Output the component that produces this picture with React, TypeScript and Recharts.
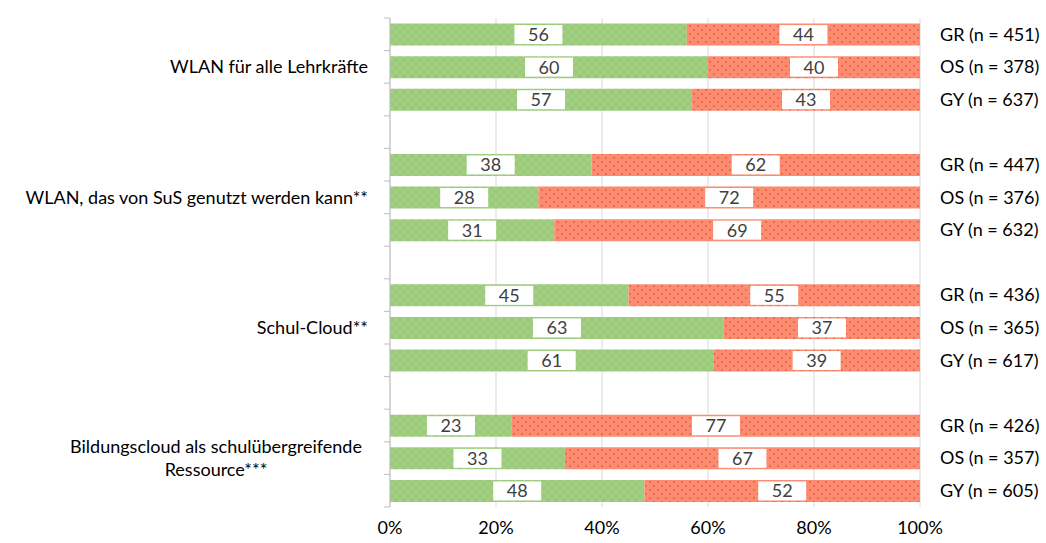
import { BarChart, Bar, XAxis, YAxis, CartesianGrid, LabelList } from "recharts";

// categories (group labels), school types, sample sizes, shares (%)
const groups = [
  ["WLAN für alle Lehrkräfte"],
  ["WLAN, das von SuS genutzt werden kann**"],
  ["Schul-Cloud**"],
  ["Bildungscloud als schulübergreifende", "Ressource***"],
];
const schoolTypes = ["GR", "OS", "GY"];
const sampleSizes = [
  [451, 378, 637],
  [447, 376, 632],
  [436, 365, 617],
  [426, 357, 605],
];
const yesShares = [
  [56, 60, 57],
  [38, 28, 31],
  [45, 63, 61],
  [23, 33, 48],
];
const noShares = [
  [44, 40, 43],
  [62, 72, 69],
  [55, 37, 39],
  [77, 67, 52],
];
const xTicks = [0, 20, 40, 60, 80, 100];

const FONT = "Lato, 'Noto Sans', sans-serif";
const FS = 18;
const PLOT_LEFT = 390;
const TOP = 18;
const X_AXIS_H = 36;
const HEIGHT = 543;

type Row = {
  key: string;
  group: number;
  mid: boolean;
  right: string;
  yes: number | null;
  no: number | null;
};

// rows incl. blank spacer rows between groups
const rows: Row[] = [];
groups.forEach((_, g) => {
  if (g > 0) rows.push({ key: `gap${g}`, group: -1, mid: false, right: "", yes: null, no: null });
  schoolTypes.forEach((s, i) => {
    rows.push({
      key: `${g}-${s}`,
      group: g,
      mid: i === 1,
      right: `${s} (n = ${sampleSizes[g][i]})`,
      yes: yesShares[g][i],
      no: noShares[g][i],
    });
  });
});

const band = (HEIGHT - TOP - X_AXIS_H) / rows.length;

const LeftTick = (props: any) => {
  const { x, y, payload, index } = props;
  const row = rows.find((r) => r.key === payload.value)!;
  const marks = (
    <g>
      <line x1={PLOT_LEFT - 6} x2={PLOT_LEFT} y1={y - band / 2} y2={y - band / 2} stroke="#BFBFBF" />
      {index === rows.length - 1 && (
        <line x1={PLOT_LEFT - 6} x2={PLOT_LEFT} y1={y + band / 2} y2={y + band / 2} stroke="#BFBFBF" />
      )}
    </g>
  );
  if (!row.mid) return marks;
  const lines = groups[row.group];
  if (lines.length === 1) {
    return (
      <g>
        {marks}
        <text x={x} y={y} dy="0.35em" textAnchor="end" fontSize={FS} fill="#000" fontFamily={FONT}>
          {lines[0]}
        </text>
      </g>
    );
  }
  return (
    <g>
      {marks}
      {lines.map((l, i) => (
        <text
          key={i}
          x={216}
          y={y + (i - (lines.length - 1) / 2) * 23}
          dy="0.35em"
          textAnchor="middle"
          fontSize={FS}
          fill="#000"
          fontFamily={FONT}
        >
          {l}
        </text>
      ))}
    </g>
  );
};

const RightTick = (props: any) => {
  const { x, y, payload } = props;
  const row = rows.find((r) => r.key === payload.value)!;
  if (!row.right) return null;
  return (
    <text x={x} y={y} dy="0.35em" textAnchor="start" fontSize={FS} fill="#000" fontFamily={FONT}>
      {row.right}
    </text>
  );
};

const ValueBox = (props: any) => {
  const { x, y, width, height, value } = props;
  if (value == null) return null;
  const cx = x + width / 2;
  const cy = y + height / 2;
  return (
    <g>
      <rect x={cx - 24} y={cy - 9.5} width={48} height={19} fill="#fff" />
      <text x={cx} y={cy} dy="0.36em" textAnchor="middle" fontSize={FS} fill="#404040" fontFamily={FONT}>
        {value}
      </text>
    </g>
  );
};

export default function App() {
  return (
    <div style={{ position: "absolute", left: 0, top: 0, background: "#fff" }}>
      <BarChart
        width={1046}
        height={HEIGHT}
        data={rows}
        layout="vertical"
        barCategoryGap="17%"
        margin={{ top: TOP, right: 0, bottom: 0, left: 0 }}
      >
        <defs>
          <pattern id="greenPat" width="8" height="8" patternUnits="userSpaceOnUse">
            <rect width="8" height="8" fill="#9BCB7A" />
            <path d="M0 4 L4 0 L8 4 L4 8 Z" fill="none" stroke="#A8D389" strokeWidth="1" />
            <rect x="3.5" y="3.5" width="1" height="1" fill="#8EC56C" />
          </pattern>
          <pattern id="redPat" width="8" height="8" patternUnits="userSpaceOnUse">
            <rect width="8" height="8" fill="#FB8C72" />
            <rect x="1" y="1" width="2" height="2" fill="#F06C48" />
            <rect x="5" y="5" width="2" height="2" fill="#F06C48" />
          </pattern>
        </defs>
        <CartesianGrid horizontal={false} stroke="#D9D9D9" />
        <XAxis
          type="number"
          domain={[0, 100]}
          ticks={xTicks}
          tickFormatter={(v) => `${v}%`}
          axisLine={false}
          tickLine={false}
          height={X_AXIS_H}
          tickMargin={8}
          interval={0}
          tick={{ fill: "#000", fontSize: FS, fontFamily: FONT }}
        />
        <YAxis
          yAxisId="left"
          type="category"
          dataKey="key"
          width={PLOT_LEFT}
          axisLine={{ stroke: "#BFBFBF" }}
          tickLine={false}
          tickMargin={16}
          interval={0}
          tick={<LeftTick />}
        />
        <YAxis
          yAxisId="right"
          type="category"
          dataKey="key"
          orientation="right"
          width={126}
          axisLine={false}
          tickLine={false}
          tickMargin={14}
          interval={0}
          tick={<RightTick />}
        />
        <Bar dataKey="yes" stackId="a" yAxisId="left" fill="url(#greenPat)" isAnimationActive={false}>
          <LabelList dataKey="yes" content={<ValueBox />} />
        </Bar>
        <Bar dataKey="no" stackId="a" yAxisId="left" fill="url(#redPat)" isAnimationActive={false}>
          <LabelList dataKey="no" content={<ValueBox />} />
        </Bar>
      </BarChart>
    </div>
  );
}
